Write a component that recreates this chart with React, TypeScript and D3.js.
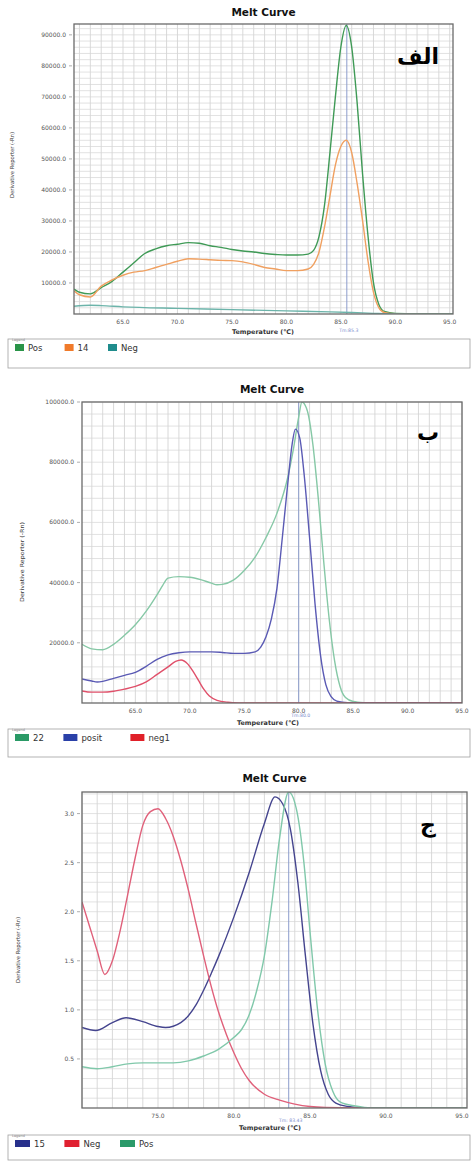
import React from 'react';
import * as d3 from 'd3';

// ---------- Panel A (الف) ----------
const tempA_pos = [60.5, 61, 62, 63, 64, 65, 66, 67, 68, 69, 70, 71, 72, 73, 74, 75, 76, 77, 78, 79, 80, 81, 82, 82.5, 83, 83.5, 84, 84.5, 85, 85.5, 86, 86.5, 87, 87.5, 88, 88.5, 89, 90, 95.3];
const valA_pos = [8000, 7000, 6500, 8500, 10500, 13500, 16500, 19500, 21000, 22000, 22500, 23000, 22800, 22000, 21500, 20800, 20300, 20000, 19500, 19200, 19000, 19000, 19300, 20500, 25000, 35000, 52000, 70000, 86000, 93000, 86000, 68000, 45000, 25000, 10000, 3000, 800, 200, 0];
const tempA_14 = [60.5, 61, 62, 63, 64, 65, 66, 67, 68, 69, 70, 71, 72, 73, 74, 75, 76, 77, 78, 79, 80, 81, 82, 82.5, 83, 83.5, 84, 84.5, 85, 85.5, 86, 86.5, 87, 87.5, 88, 88.5, 89, 90, 95.3];
const valA_14 = [7500, 6200, 5500, 9000, 11000, 12500, 13500, 14000, 15000, 16000, 17000, 17800, 17700, 17500, 17300, 17200, 16800, 16000, 15000, 14500, 14000, 14000, 14500, 16000, 20000, 28000, 38000, 48000, 54000, 56000, 52000, 42000, 30000, 17000, 7000, 2000, 500, 100, 0];
const tempA_neg = [60.5, 62, 63, 65, 70, 75, 80, 84, 86, 88, 90, 95.3];
const valA_neg = [2500, 2800, 2700, 2300, 1800, 1400, 1000, 700, 500, 200, 0, 0];
const ticksA_y = [10000, 20000, 30000, 40000, 50000, 60000, 70000, 80000, 90000];

// ---------- Panel B (ب) ----------
const tempB_22 = [60.1, 61, 62, 63, 64, 65, 66, 67, 67.5, 68, 69, 70, 71, 72, 72.5, 73, 74, 75, 76, 77, 78, 79, 79.5, 80, 80.3, 80.8, 81.3, 81.8, 82.3, 82.8, 83.3, 83.8, 84.3, 85, 86, 87, 95];
const valB_22 = [19500, 18000, 17700, 19500, 22500, 26000, 30500, 36000, 39000, 41500, 42000, 41800, 41000, 39800, 39300, 39400, 40800, 44000, 48500, 55000, 63000, 75000, 84000, 95000, 100000, 97000, 86000, 68000, 47000, 28000, 14000, 5500, 1800, 500, 100, 0, 0];
const tempB_posit = [60.1, 61, 61.5, 62, 63, 64, 65, 66, 67, 68, 69, 70, 71, 72, 73, 74, 75, 76, 76.5, 77, 77.5, 78, 78.5, 79, 79.4, 79.7, 80.1, 80.5, 81, 81.5, 82, 82.5, 83, 83.5, 84.5, 95];
const valB_posit = [8000, 7300, 7000, 7200, 8200, 9200, 10200, 12200, 14500, 16000, 16700, 17000, 17000, 17000, 16800, 16500, 16500, 17000, 18500, 22000, 28000, 38000, 55000, 73000, 86000, 91000, 88000, 76000, 55000, 33000, 16000, 6000, 2000, 600, 100, 0];
const tempB_neg1 = [60.1, 61, 62, 63, 64, 65, 66, 67, 68, 68.7, 69.2, 69.8, 70.3, 70.8, 71.3, 71.8, 72.5, 73.5, 74.5, 76, 95];
const valB_neg1 = [4000, 3600, 3600, 3900, 4600, 5500, 7000, 9500, 12000, 13800, 14300, 13000, 10500, 7500, 4500, 2300, 900, 250, 50, 0, 0];
const ticksB_y = [20000, 40000, 60000, 80000, 100000];

// ---------- Panel C (ج) ----------
const tempC_15 = [70, 70.9, 72, 72.9, 74, 75, 75.5, 76.5, 77, 77.5, 78, 78.5, 79, 80, 81, 82, 82.7, 83.2, 83.7, 84.2, 84.7, 85.2, 85.7, 86.2, 86.7, 87.5, 88.5, 95.3];
const valC_15 = [0.82, 0.79, 0.87, 0.92, 0.88, 0.83, 0.82, 0.87, 0.94, 1.05, 1.2, 1.37, 1.55, 1.95, 2.4, 2.9, 3.17, 3.1, 2.85, 2.3, 1.55, 0.85, 0.38, 0.14, 0.05, 0.015, 0, 0];
const tempC_neg = [70, 70.5, 71, 71.5, 72, 72.5, 73, 73.5, 74, 74.5, 75, 75.5, 76, 76.5, 77, 77.5, 78, 78.5, 79, 79.5, 80, 80.5, 81, 82, 83, 84, 85, 86, 88, 95.3];
const valC_neg = [2.1, 1.85, 1.6, 1.36, 1.5, 1.8, 2.17, 2.55, 2.88, 3.02, 3.05, 2.95, 2.77, 2.52, 2.22, 1.88, 1.55, 1.24, 0.97, 0.75, 0.56, 0.4, 0.28, 0.14, 0.08, 0.04, 0.015, 0.005, 0, 0];
const tempC_pos = [70, 71, 72, 73, 74, 75, 76, 77, 78, 79, 80, 80.5, 81, 81.5, 82, 82.5, 83, 83.6, 84.1, 84.6, 85, 85.5, 86, 86.5, 87, 88, 89, 95.3];
const valC_pos = [0.42, 0.4, 0.42, 0.45, 0.46, 0.46, 0.46, 0.48, 0.53, 0.6, 0.72, 0.8, 0.95, 1.2, 1.55, 2.1, 2.75, 3.22, 3.05, 2.5, 1.8, 1.0, 0.45, 0.17, 0.06, 0.02, 0, 0];
const ticksC_y = [0.5, 1.0, 1.5, 2.0, 2.5, 3.0];

const ticksX_A = [65, 70, 75, 80, 85, 90, 95];
const ticksX_C = [75, 80, 85, 90, 95];

type Series = { name: string; color: string; swatch: string; temps: number[]; values: number[] };

const seriesA: Series[] = [
  { name: 'Pos', color: '#3f9a56', swatch: '#2a9448', temps: tempA_pos, values: valA_pos },
  { name: '14', color: '#f0a060', swatch: '#f07a2a', temps: tempA_14, values: valA_14 },
  { name: 'Neg', color: '#6cb4aa', swatch: '#1f8c8c', temps: tempA_neg, values: valA_neg },
];
const seriesB: Series[] = [
  { name: '22', color: '#86c8a6', swatch: '#2a9a66', temps: tempB_22, values: valB_22 },
  { name: 'posit', color: '#5a5ab4', swatch: '#2a40a8', temps: tempB_posit, values: valB_posit },
  { name: 'neg1', color: '#e0506a', swatch: '#e02028', temps: tempB_neg1, values: valB_neg1 },
];
const seriesC: Series[] = [
  { name: '15', color: '#44448e', swatch: '#28308c', temps: tempC_15, values: valC_15 },
  { name: 'Neg', color: '#e0607a', swatch: '#e02030', temps: tempC_neg, values: valC_neg },
  { name: 'Pos', color: '#80c8aa', swatch: '#2a9a6a', temps: tempC_pos, values: valC_pos },
];

type Cfg = {
  id: string; label: string; series: Series[];
  left: number; right: number; top: number; bottom: number;
  xDomain: [number, number]; yDomain: [number, number]; yMinor: number;
  yTicks: number[]; xTicks: number[]; yFmt: (v: number) => string;
  titleY: number; tm: number; tmText: string; legendTop: number; legendH: number;
  yTitleX: number; yTitleY: number; yTitleLen: number; labelX: number; labelY: number;
  swW: number; axisTitleX: number; tmTextDy: number; axisTitleDy: number;
};

const panels: Cfg[] = [
  {
    id: 'a', label: 'الف', series: seriesA, left: 74, right: 453, top: 24, bottom: 314,
    xDomain: [60.5, 95.3], yDomain: [0, 93500], yMinor: 2000, yTicks: ticksA_y, xTicks: ticksX_A,
    yFmt: (v) => v.toFixed(1), titleY: 16, tm: 85.55, tmText: 'Tm:85.3', legendTop: 339, legendH: 29,
    yTitleX: 14, yTitleY: 165, yTitleLen: 66, labelX: 418, labelY: 64, swW: 9,
    axisTitleX: 263, tmTextDy: 18, axisTitleDy: 20,
  },
  {
    id: 'b', label: 'ب', series: seriesB, left: 82, right: 462, top: 402, bottom: 703,
    xDomain: [60.1, 95.0], yDomain: [0, 100000], yMinor: 4000, yTicks: ticksB_y, xTicks: ticksX_A,
    yFmt: (v) => v.toFixed(1), titleY: 393, tm: 80.0, tmText: 'Tm:80.0', legendTop: 729, legendH: 28,
    yTitleX: 24, yTitleY: 562, yTitleLen: 80, labelX: 428, labelY: 440, swW: 14,
    axisTitleX: 268, tmTextDy: 14, axisTitleDy: 22,
  },
  {
    id: 'c', label: 'ج', series: seriesC, left: 82, right: 467, top: 792, bottom: 1108,
    xDomain: [70, 95.33], yDomain: [0, 3.22], yMinor: 0.1, yTicks: ticksC_y, xTicks: ticksX_C,
    yFmt: (v) => v.toFixed(1), titleY: 782, tm: 83.6, tmText: 'Tm: 83.43', legendTop: 1135, legendH: 25,
    yTitleX: 20, yTitleY: 950, yTitleLen: 66, labelX: 428, labelY: 832, swW: 15,
    axisTitleX: 270, tmTextDy: 14, axisTitleDy: 22,
  },
];

const FONT = "'DejaVu Sans', 'Liberation Sans', sans-serif";

function Panel({ cfg }: { cfg: Cfg }) {
  const x = d3.scaleLinear().domain(cfg.xDomain).range([cfg.left, cfg.right]);
  const y = d3.scaleLinear().domain(cfg.yDomain).range([cfg.bottom, cfg.top]);
  const vGrid = d3.range(Math.ceil(cfg.xDomain[0]), cfg.xDomain[1] + 1e-6, 1);
  const nH = Math.floor(cfg.yDomain[1] / cfg.yMinor + 1e-6);
  const hGrid = d3.range(1, nH + 1).map((i) => i * cfg.yMinor);
  const line = d3
    .line<[number, number]>()
    .x((d) => x(d[0]))
    .y((d) => y(d[1]))
    .curve(d3.curveMonotoneX);
  const clipId = 'clip-' + cfg.id;
  const cx = (cfg.left + cfg.right) / 2;
  const legendItems: { s: Series; xPos: number }[] = [];
  let lx = 15;
  cfg.series.forEach((s) => {
    legendItems.push({ s, xPos: lx });
    lx += cfg.swW + 8 + s.name.length * 6.2 + 14;
  });
  return (
    <g>
      <defs>
        <clipPath id={clipId}>
          <rect x={cfg.left} y={cfg.top} width={cfg.right - cfg.left} height={cfg.bottom - cfg.top} />
        </clipPath>
      </defs>
      <text x={cx} y={cfg.titleY} textAnchor="middle" fontFamily={FONT} fontWeight="bold" fontSize={10.5} fill="#111">
        Melt Curve
      </text>
      <rect x={cfg.left} y={cfg.top} width={cfg.right - cfg.left} height={cfg.bottom - cfg.top} fill="#fff" />
      {vGrid.map((t) => (
        <line key={'v' + t} x1={x(t)} x2={x(t)} y1={cfg.top} y2={cfg.bottom} stroke="#cfcfcf" strokeWidth={0.8} />
      ))}
      {hGrid.map((v, i) => (
        <line key={'h' + i} x1={cfg.left} x2={cfg.right} y1={y(v)} y2={y(v)} stroke="#d6d6d6" strokeWidth={0.7} />
      ))}
      <g clipPath={`url(#${clipId})`}>
        <line x1={x(cfg.tm)} x2={x(cfg.tm)} y1={cfg.top} y2={cfg.bottom} stroke="#8c9ccc" strokeWidth={1} />
        {cfg.series.map((s) => (
          <path
            key={s.name}
            d={line(s.temps.map((t, i) => [t, s.values[i]] as [number, number])) || ''}
            fill="none"
            stroke={s.color}
            strokeWidth={1.4}
          />
        ))}
      </g>
      <rect x={cfg.left} y={cfg.top} width={cfg.right - cfg.left} height={cfg.bottom - cfg.top} fill="none" stroke="#6a6a6a" strokeWidth={1.3} />
      {cfg.yTicks.map((v) => (
        <g key={'yt' + v}>
          <line x1={cfg.left - 5} x2={cfg.left - 2} y1={y(v)} y2={y(v)} stroke="#777" strokeWidth={0.6} />
          <text x={cfg.left - 8} y={y(v) + 2} textAnchor="end" fontFamily={FONT} fontSize={6} fill="#555">
            {cfg.yFmt(v)}
          </text>
        </g>
      ))}
      {cfg.xTicks.map((t) => (
        <text key={'xt' + t} x={x(t)} y={cfg.bottom + 9.5} textAnchor="middle" fontFamily={FONT} fontSize={6} fill="#555">
          {t.toFixed(1)}
        </text>
      ))}
      <text x={x(cfg.tm) + 2} y={cfg.bottom + cfg.tmTextDy} textAnchor="middle" fontFamily={FONT} fontSize={4.6} fill="#7a8ccc">
        {cfg.tmText}
      </text>
      <text x={cfg.axisTitleX} y={cfg.bottom + cfg.axisTitleDy} textAnchor="middle" fontFamily={FONT} fontWeight="bold" fontSize={6.4} fill="#333">
        Temperature (°C)
      </text>
      <text
        transform={`translate(${cfg.yTitleX},${cfg.yTitleY}) rotate(-90)`}
        textAnchor="middle"
        fontFamily={FONT}
        fontSize={5.5}
        fill="#333"
        textLength={cfg.yTitleLen}
        lengthAdjust="spacingAndGlyphs"
      >
        Derivative Reporter (-Rn)
      </text>
      <text x={cfg.labelX} y={cfg.labelY} textAnchor="middle" fontFamily={FONT} fontWeight="bold" fontSize={22} fill="#000">
        {cfg.label}
      </text>
      <rect x={8} y={cfg.legendTop} width={462} height={cfg.legendH} fill="none" stroke="#a0a0a0" strokeWidth={0.8} />
      <text x={12} y={cfg.legendTop + 1.5} fontFamily={FONT} fontSize={3.5} fill="#888">
        Legend
      </text>
      {legendItems.map(({ s, xPos }) => (
        <g key={'lg' + s.name}>
          <rect x={xPos} y={cfg.legendTop + 5} width={cfg.swW} height={7} fill={s.swatch} />
          <text x={xPos + cfg.swW + 4} y={cfg.legendTop + 11.5} fontFamily={FONT} fontSize={8.5} fill="#333">
            {s.name}
          </text>
        </g>
      ))}
    </g>
  );
}

export default function App() {
  return (
    <svg
      width={474}
      height={1162}
      viewBox="0 0 474 1162"
      style={{ position: 'absolute', left: 0, top: 0, background: '#fff' }}
    >
      <rect x={0} y={0} width={474} height={1162} fill="#fff" />
      {panels.map((p) => (
        <Panel key={p.id} cfg={p} />
      ))}
    </svg>
  );
}
